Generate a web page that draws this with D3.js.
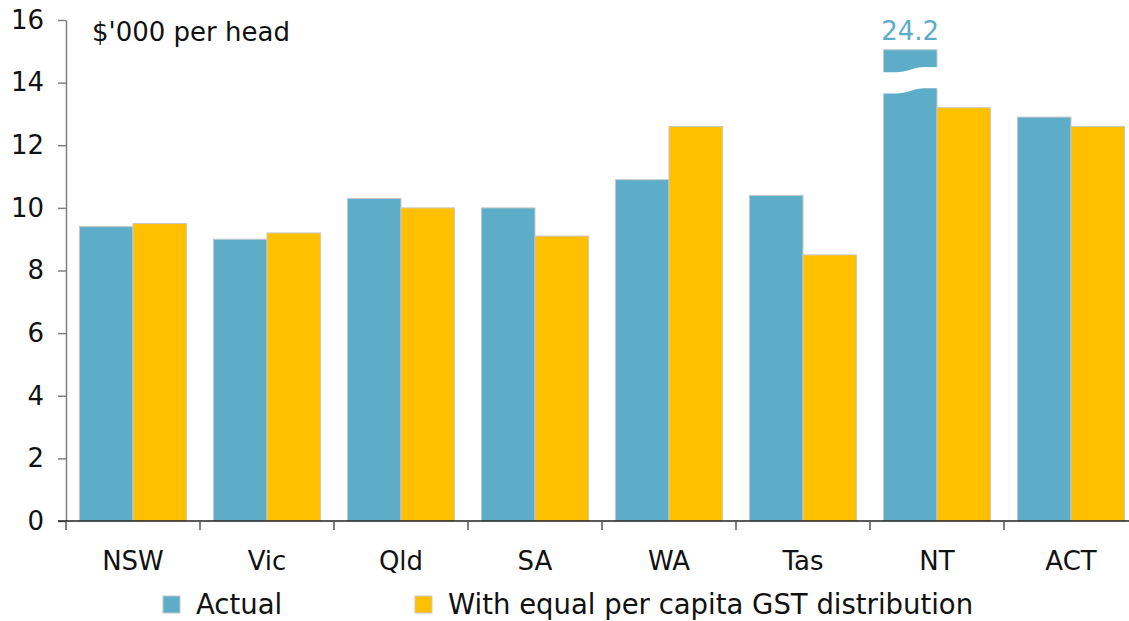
<!DOCTYPE html>
<html>
<head>
<meta charset="utf-8">
<script src="https://cdn.jsdelivr.net/npm/d3@7"></script>
<style>
  body { margin: 0; background: #fff; }
  text { font-family: "DejaVu Sans", sans-serif; }
</style>
</head>
<body>
<script>
const states = ["NSW", "Vic", "Qld", "SA", "WA", "Tas", "NT", "ACT"];
const actual = [9.4, 9.0, 10.3, 10.0, 10.9, 10.4, 24.2, 12.9];
const equalGst = [9.5, 9.2, 10.0, 9.1, 12.6, 8.5, 13.2, 12.6];
const seriesNames = ["Actual", "With equal per capita GST distribution"];
const yTicks = [0, 2, 4, 6, 8, 10, 12, 14, 16];

const width = 1129, height = 621;
const margin = { top: 20, right: -9, bottom: 100, left: 66 };
const colors = ["#5DADC8", "#FFC000"];
const fs = 26;

const svg = d3.select("body").append("svg")
    .attr("width", width)
    .attr("height", height);

const x = d3.scaleBand()
    .domain(states)
    .range([margin.left, width - margin.right])
    .paddingInner(0.2)
    .paddingOuter(0.1);
const xOuter = d3.scaleBand()
    .domain(states)
    .range([margin.left, width - margin.right]);

const y = d3.scaleLinear()
    .domain([0, 16])
    .range([height - margin.bottom, margin.top]);

const sub = d3.scaleBand()
    .domain([0, 1])
    .range([0, x.bandwidth()]);

// bars (capped at 15 for the broken NT bar)
const cap = 15.05;
const rows = states.map((s, i) => ({ state: s, vals: [actual[i], equalGst[i]] }));
const g = svg.append("g");
rows.forEach(r => {
    r.vals.forEach((v, k) => {
        g.append("rect")
            .attr("x", x(r.state) + sub(k))
            .attr("y", y(Math.min(v, cap)))
            .attr("width", sub.bandwidth())
            .attr("height", y(0) - y(Math.min(v, cap)))
            .attr("fill", colors[k])
            .attr("stroke", "#c8c8c8")
            .attr("stroke-width", 1);
    });
});

// axis break on NT actual bar
const bx0 = x("NT") - 2, bx1 = x("NT") + sub.bandwidth() + 2;
const bm = (bx0 + bx1) / 2;
const topL = y(14.33), topR = y(14.5), botL = y(13.65), botR = y(13.82);
svg.append("path")
    .attr("d", `M${bx0},${topL} L${bx0 + 12},${topL} C${bm},${topL} ${bm},${topR} ${bx1 - 12},${topR} L${bx1},${topR}
                L${bx1},${botR} L${bx1 - 12},${botR} C${bm},${botR} ${bm},${botL} ${bx0 + 12},${botL} L${bx0},${botL} Z`)
    .attr("fill", "#fff");

svg.append("text")
    .attr("x", x("NT") + sub.bandwidth() / 2)
    .attr("y", y(cap) - 10)
    .attr("text-anchor", "middle")
    .attr("font-size", fs)
    .attr("fill", colors[0])
    .text(d3.format(".1f")(actual[states.indexOf("NT")]));

// y axis
const yAxis = svg.append("g")
    .attr("transform", `translate(${margin.left},0)`)
    .call(d3.axisLeft(y).tickValues(yTicks).tickSize(8).tickPadding(14).tickSizeOuter(0));
yAxis.select(".domain").attr("stroke", "#808080").attr("stroke-width", 1.5);
yAxis.selectAll(".tick line").attr("stroke", "#808080").attr("stroke-width", 1.5);
yAxis.selectAll(".tick text").attr("font-size", fs).attr("fill", "#111")
    .attr("font-family", "DejaVu Sans, sans-serif");

// x axis
const xAxisY = y(0);
svg.append("line")
    .attr("x1", margin.left - 8).attr("x2", width)
    .attr("y1", xAxisY).attr("y2", xAxisY)
    .attr("stroke", "#222").attr("stroke-width", 1.5);
svg.selectAll(".xtick")
    .data(states)
    .join("line")
    .attr("x1", d => xOuter(d)).attr("x2", d => xOuter(d))
    .attr("y1", xAxisY).attr("y2", xAxisY + 9)
    .attr("stroke", "#555").attr("stroke-width", 1.5);
svg.selectAll(".xlabel")
    .data(states)
    .join("text")
    .attr("x", d => xOuter(d) + xOuter.bandwidth() / 2)
    .attr("y", xAxisY + 49)
    .attr("text-anchor", "middle")
    .attr("font-size", fs)
    .attr("fill", "#111")
    .text(d => d);

// unit label
svg.append("text")
    .attr("x", 92)
    .attr("y", 41)
    .attr("font-size", fs)
    .attr("fill", "#111")
    .text("$'000 per head");

// legend
const legendX = [163, 415];
seriesNames.forEach((name, k) => {
    svg.append("rect")
        .attr("x", legendX[k]).attr("y", 596)
        .attr("width", 17).attr("height", 17)
        .attr("fill", colors[k])
        .attr("stroke", "#c8c8c8");
    svg.append("text")
        .attr("x", legendX[k] + 33).attr("y", 614)
        .attr("font-size", fs + 1.5)
        .attr("fill", "#111")
        .text(name);
});
</script>
</body>
</html>
